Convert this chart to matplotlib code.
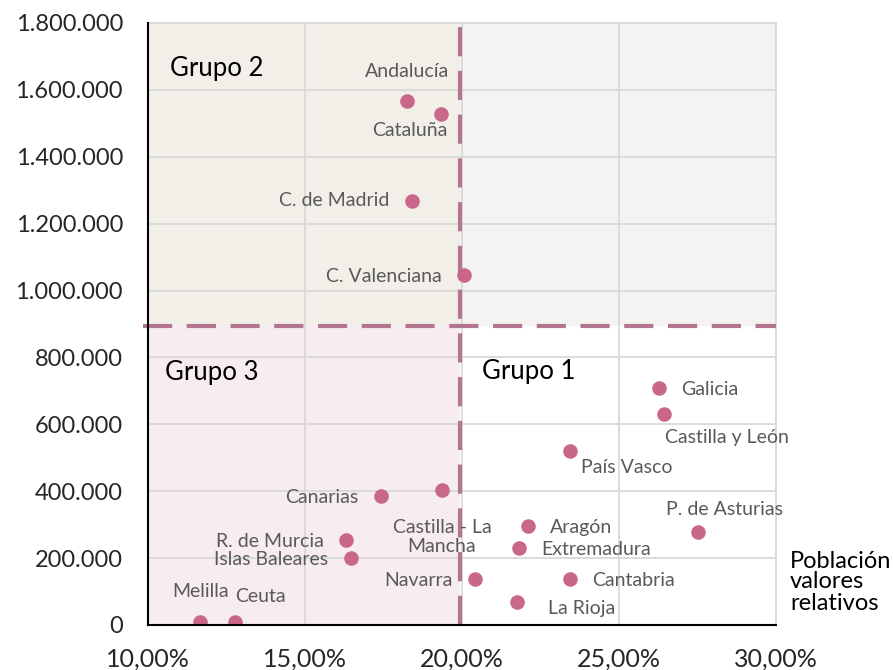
import numpy as np
import matplotlib.pyplot as plt
from matplotlib.ticker import FuncFormatter, MultipleLocator

plt.rcParams['font.family'] = ['Lato', 'DejaVu Sans']

# datos: % valores relativos (x) y poblacion (y)
regiones = ["Andalucía", "Cataluña", "C. de Madrid", "C. Valenciana",
            "Galicia", "Castilla y León", "País Vasco", "P. de Asturias",
            "Aragón", "Extremadura", "Navarra", "Cantabria", "La Rioja",
            "Castilla - La\nMancha", "Canarias", "R. de Murcia",
            "Islas Baleares", "Melilla", "Ceuta"]
pct = [18.25, 19.33, 18.41, 20.06,
       26.27, 26.43, 23.44, 27.52,
       22.10, 21.82, 20.41, 23.44, 21.75,
       19.36, 17.42, 16.31,
       16.46, 11.66, 12.77]
poblacion = [1567000, 1528000, 1268000, 1046000,
             709000, 631000, 520000, 278000,
             296000, 230000, 137000, 137000, 69000,
             404000, 386000, 254000,
             200000, 9000, 9000]

# posicion de las etiquetas (offset en puntos, alineacion)
offsets = [(30, 21, 'right'), (5, -12, 'right'), (-16, 0, 'right'), (-16, -1, 'right'),
           (16, -1, 'left'), (1, -17, 'left'), (8, -12, 'left'), (-23, 16, 'left'),
           (16, -1, 'left'), (16, -1, 'left'), (-16, -1, 'right'), (16, -1, 'left'), (22, -5, 'left'),
           (0, -34, 'center'), (-16, -1, 'right'), (-16, -1, 'right'),
           (-16, -1, 'right'), (0, 22, 'center'), (18, 18, 'center')]

corte_x = 19.95
corte_y = 895000

fig = plt.figure(figsize=(8.93, 6.7), dpi=100)
ax = fig.add_axes([0.1657, 0.0672, 0.7033, 0.8985])

ax.set_xlim(10, 30)
ax.set_ylim(0, 1800000)

# fondos de los grupos
ax.fill_between([10, corte_x], corte_y, 1800000, color='#f2efe8', zorder=0, lw=0)
ax.fill_between([corte_x, 30], corte_y, 1800000, color='#f4f3f2', zorder=0, lw=0)
ax.fill_between([10, corte_x], 0, corte_y, color='#f7ecf0', zorder=0, lw=0)

ax.xaxis.set_major_locator(MultipleLocator(5))
ax.yaxis.set_major_locator(MultipleLocator(200000))
ax.grid(True, color='#d9d9d9', lw=1.3, zorder=1)
ax.set_axisbelow(True)

for s in ['top', 'right']:
    ax.spines[s].set_color('#d9d9d9')
    ax.spines[s].set_linewidth(1.3)
for s in ['left', 'bottom']:
    ax.spines[s].set_color('black')
    ax.spines[s].set_linewidth(1.5)
    ax.spines[s].set_zorder(5)

ax.xaxis.set_major_formatter(FuncFormatter(lambda v, p: f"{v:.2f}%".replace('.', ',')))
ax.yaxis.set_major_formatter(FuncFormatter(lambda v, p: f"{int(v):,}".replace(',', '.')))
ax.tick_params(length=0, colors='#262626')
ax.tick_params(axis='x', pad=16, labelsize=18)
ax.tick_params(axis='y', pad=18, labelsize=17)

# lineas de corte
ax.axvline(corte_x, color='#b47590', lw=3, dashes=(7, 3.5), zorder=3)
ax.plot([9.85, 30], [corte_y, corte_y], color='#b47590', lw=3, dashes=(7, 3.5),
        zorder=3, clip_on=False)

ax.scatter(pct, poblacion, s=110, color='#c9678a', zorder=4, lw=0)

for name, x, y, (dx, dy, ha) in zip(regiones, pct, poblacion, offsets):
    ax.annotate(name, (x, y), xytext=(dx, dy), textcoords='offset points',
                ha=ha, va='center', fontsize=14, color='#595959', zorder=6,
                linespacing=1.2)

ax.text(10.7, 1665000, "Grupo 2", fontsize=18.5, va='center', ha='left')
ax.text(10.55, 755000, "Grupo 3", fontsize=18.5, va='center', ha='left')
ax.text(20.65, 758000, "Grupo 1", fontsize=18.5, va='center', ha='left')

fig.text(790 / 893, 1 - 582 / 670, "Población\nvalores\nrelativos", fontsize=17,
         ha='left', va='center', linespacing=1.0)

fig.savefig("out.png", dpi=100)
